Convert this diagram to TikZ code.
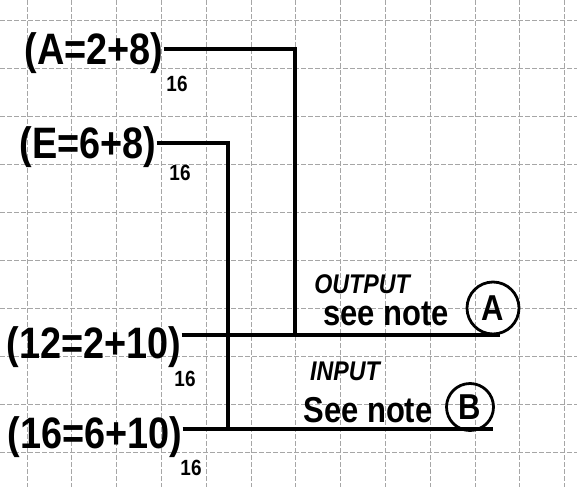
\documentclass[tikz,border=0pt]{standalone}
\usepackage{fontspec}
\setmainfont{Liberation Sans}
\newfontfamily\handfont[FakeStretch=0.86]{Liberation Sans}
\usepackage{tikz}

\tikzset{
  gridline/.style={gray!70, line width=0.9pt, dash pattern=on 5pt off 2pt},
  wire/.style={black, line width=3.4pt},
  hexlbl/.style={inner sep=0pt, font=\handfont\fontsize{44}{46}\selectfont\bfseries},
  sublbl/.style={inner sep=0pt, font=\handfont\fontsize{22}{24}\selectfont\bfseries},
  notelbl/.style={inner sep=0pt, font=\handfont\fontsize{36}{38}\selectfont\bfseries},
  dirlbl/.style={inner sep=0pt, font=\handfont\fontsize{27}{29}\selectfont\bfseries\itshape},
  notecirc/.style={circle, draw, line width=2.8pt, inner sep=0pt, font=\handfont\fontsize{36}{38}\selectfont\bfseries}
}

\begin{document}
\begin{tikzpicture}[x=1pt,y=-1pt]
  \useasboundingbox[fill=white] (0,0) rectangle (577,487);

  % Grid paper
  \foreach \i in {0,...,12}
    \draw[gridline] (27+44.8*\i,0) -- (27+44.8*\i,487);
  \foreach \j in {0,...,9}
    \draw[gridline] (0,20+48*\j) -- (577,20+48*\j);

  % Hex labels
  \node[hexlbl] (hA) at (94,53) {(A=2+8)};
  \node[sublbl] (sA) at (177,84) {16};
  \node[hexlbl] (hE) at (88,147) {(E=6+8)};
  \node[sublbl] (sE) at (180,173) {16};
  \node[hexlbl] (h12) at (94,347) {(12=2+10)};
  \node[sublbl] (s12) at (185,379) {16};
  \node[hexlbl] (h16) at (95,437) {(16=6+10)};
  \node[sublbl] (s16) at (191,468) {16};

  % Notes
  \node[dirlbl] (out) at (362,284) {OUTPUT};
  \node[notelbl] (seeA) at (386,314) {see note};
  \node[notecirc, minimum size=52pt] (cA) at (493,308) {A};
  \node[dirlbl] (in) at (345,371) {INPUT};
  \node[notelbl] (seeB) at (368,410) {See note};
  \node[notecirc, minimum size=47pt] (cB) at (470,407) {B};

  % Corners and bus ends
  \coordinate (kA) at (295,49);
  \coordinate (kE) at (228,143);
  \coordinate (eA) at (500,335);
  \coordinate (eB) at (493,429);

  % Output bus
  \draw[wire] (h12.east |- eA) -- (eA);
  \draw[wire] (hA.east |- kA) -- (kA) -- (kA |- eA);

  % Input bus
  \draw[wire] (h16.east |- eB) -- (eB);
  \draw[wire] (hE.east |- kE) -- (kE) -- (kE |- eB);
\end{tikzpicture}
\end{document}
